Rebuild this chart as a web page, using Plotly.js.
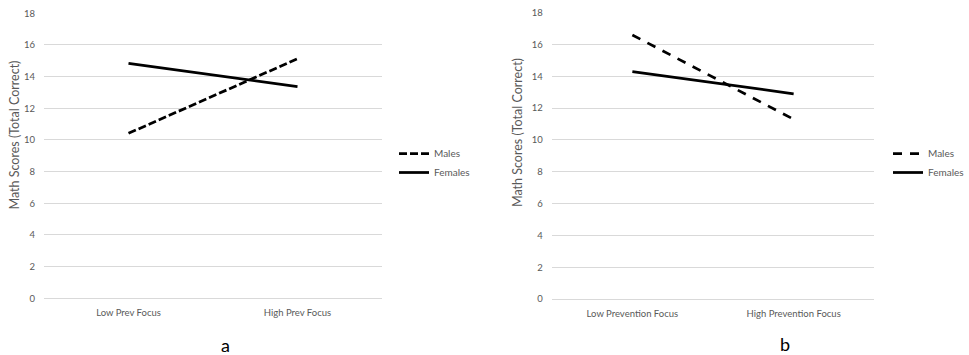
<!DOCTYPE html>
<html>
<head>
<meta charset="utf-8">
<script src="https://cdn.plot.ly/plotly-3.0.1.min.js"></script>
<style>html,body{margin:0;padding:0;background:#fff;}#chart{width:969px;height:355px;}</style>
</head>
<body>
<div id="chart"></div>
<script>
const categoriesA = ["Low Prev Focus", "High Prev Focus"];
const categoriesB = ["Low Prevention Focus", "High Prevention Focus"];
const malesA = [10.42, 15.13];
const femalesA = [14.84, 13.37];
const malesB = [16.6, 11.3];
const femalesB = [14.3, 12.9];
const seriesNames = ["Males", "Females"];
const yTicks = [0, 2, 4, 6, 8, 10, 12, 14, 16, 18];
const yTitle = "Math Scores (Total Correct)";
const panelLabels = ["a", "b"];

const FONT = "Lato, 'Open Sans', sans-serif";
const GRAY = "#595959";

const traces = [
  {x: categoriesA, y: malesA, name: seriesNames[0], mode: "lines", xaxis: "x", yaxis: "y",
   line: {color: "#000", width: 2.75, dash: "8px,3px"}, legend: "legend"},
  {x: categoriesA, y: femalesA, name: seriesNames[1], mode: "lines", xaxis: "x", yaxis: "y",
   line: {color: "#000", width: 2.75}, legend: "legend"},
  {x: categoriesB, y: malesB, name: seriesNames[0], mode: "lines", xaxis: "x2", yaxis: "y2",
   line: {color: "#000", width: 2.75, dash: "9px,8px"}, legend: "legend2"},
  {x: categoriesB, y: femalesB, name: seriesNames[1], mode: "lines", xaxis: "x2", yaxis: "y2",
   line: {color: "#000", width: 2.75}, legend: "legend2"}
];

const W = 969, H = 355;
function xaxisDef(domain, cats) {
  return {domain: domain, type: "category", range: [-0.5, 1.5], showgrid: false, zeroline: false,
    showline: false, ticks: "", tickfont: {family: FONT, size: 9.5, color: GRAY},
    ticklabelstandoff: 6, fixedrange: true, categoryarray: cats, categoryorder: "array"};
}
function yaxisDef(domain, anchor) {
  return {domain: domain, anchor: anchor, range: [-0.08, 18], tickvals: yTicks, ticktext: yTicks.map(String),
    showgrid: true, gridcolor: "#d9d9d9", gridwidth: 1, zeroline: false, showline: false, ticks: "",
    tickfont: {family: FONT, size: 9.5, color: GRAY}, ticklabelstandoff: 8, fixedrange: true};
}
function legendDef(xpx, ypx) {
  return {x: xpx / W, y: 1 - ypx / H, xanchor: "left", yanchor: "top", bgcolor: "rgba(0,0,0,0)",
    font: {family: FONT, size: 10, color: GRAY}, tracegroupgap: 0, itemwidth: 30, traceorder: "normal"};
}

const layout = {
  width: W, height: H,
  margin: {l: 0, r: 0, t: 0, b: 0},
  paper_bgcolor: "#fff", plot_bgcolor: "#fff",
  showlegend: true,
  xaxis: Object.assign(xaxisDef([44 / W, 382 / W], categoriesA), {anchor: "y"}),
  yaxis: yaxisDef([(H - 299.6) / H, (H - 13.3) / H], "x"),
  xaxis2: Object.assign(xaxisDef([551.7 / W, 874.3 / W], categoriesB), {anchor: "y2"}),
  yaxis2: yaxisDef([(H - 300.3) / H, (H - 12.7) / H], "x2"),
  legend: legendDef(394, 139),
  legend2: legendDef(888, 139),
  annotations: [
    {text: yTitle, textangle: -90, xref: "paper", yref: "paper", x: 14 / W, y: 1 - 135.5 / H,
     xanchor: "center", yanchor: "middle", showarrow: false, font: {family: FONT, size: 12.5, color: GRAY}},
    {text: yTitle, textangle: -90, xref: "paper", yref: "paper", x: 518 / W, y: 1 - 133 / H,
     xanchor: "center", yanchor: "middle", showarrow: false, font: {family: FONT, size: 12.5, color: GRAY}},
    {text: panelLabels[0], xref: "paper", yref: "paper", x: 225 / W, y: 1 - 345 / H,
     xanchor: "center", yanchor: "middle", showarrow: false, font: {family: FONT, size: 18, color: "#000"}},
    {text: panelLabels[1], xref: "paper", yref: "paper", x: 785 / W, y: 1 - 344 / H,
     xanchor: "center", yanchor: "middle", showarrow: false, font: {family: FONT, size: 18, color: "#000"}}
  ]
};

Plotly.newPlot("chart", traces, layout, {displayModeBar: false, staticPlot: true});
</script>
</body>
</html>
